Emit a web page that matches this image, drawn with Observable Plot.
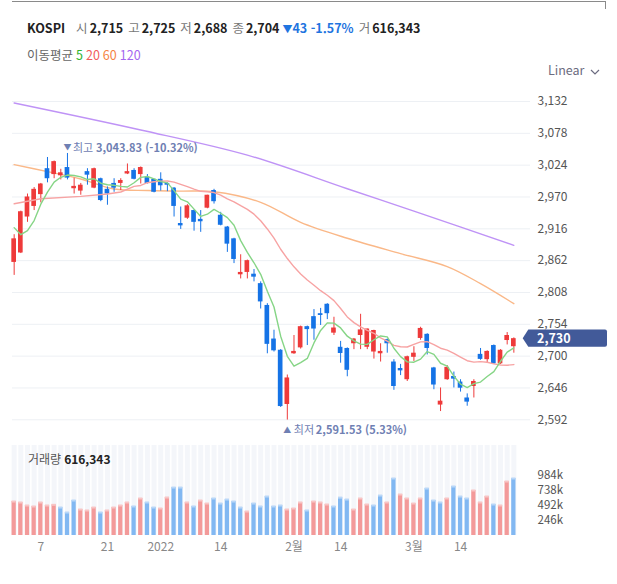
<!DOCTYPE html>
<html lang="ko">
<head>
<meta charset="utf-8">
<script src="https://cdn.jsdelivr.net/npm/d3@7"></script>
<script src="https://cdn.jsdelivr.net/npm/@observablehq/plot@0.6"></script>
<style>
  html, body { margin: 0; padding: 0; background: #fff; }
  body { position: relative; width: 617px; height: 584px; overflow: hidden;
         font-family: "Noto Sans CJK KR", "Noto Sans", sans-serif; color: #222; }
  .abs { position: absolute; white-space: nowrap; z-index: 2; }
  #frameTop { left: 12px; top: 1px; width: 594px; height: 1px; background: #8a8a8a; }
  #frameTick { left: 605px; top: 1px; width: 1px; height: 8px; background: #8a8a8a; }
  #quote { left: 27px; top: 19px; font-size: 12.5px; line-height: 18px; }
  #quote .name { font-weight: 700; margin-right: 6px; }
  #quote .k { color: #777; margin-left: 5px; margin-right: 2px; }
  #quote .v { font-weight: 600; color: #222; }
  #quote .chg { color: #1f75e0; font-weight: 600; margin-left: 3px; }
  #quote .chg small { font-size: 10px; }
  #maLegend { left: 27px; top: 46px; font-size: 12.5px; line-height: 18px; color: #666; }
  #maLegend span { margin-left: 3px; }
  #scaleMode { left: 548px; top: 61px; font-size: 12.5px; line-height: 18px; color: #6c6c80; }
  #scaleMode svg { margin-left: 6px; vertical-align: middle; }
  #volLabel { left: 28px; top: 450px; font-size: 12px; line-height: 18px; color: #555; }
  #volLabel b { color: #222; font-weight: 700; margin-left: 3px; }
  #price { position: absolute; left: 0; top: 0; z-index: 1; }
  #volume { position: absolute; left: 0; top: 440px; z-index: 1; }
</style>
</head>
<body>
<div id="price"></div>
<div id="volume"></div>
<div class="abs" id="frameTop"></div>
<div class="abs" id="frameTick"></div>
<div class="abs" id="quote"></div>
<div class="abs" id="maLegend"></div>
<div class="abs" id="scaleMode">Linear<svg width="10" height="6" viewBox="0 0 10 6"><polyline points="1,1 5,5 9,1" fill="none" stroke="#6c6c80" stroke-width="1.2"/></svg></div>
<div class="abs" id="volLabel"></div>
<script>
// KOSPI daily sessions, 2021-12-01 .. 2022-03-24
const indexName = "KOSPI";
const open = [2859,2875,2936,2954,2974,3018,3008,3006,3020,2984, 2980,3013,2985,3001,2983,2993,2993,3009,3015,3008,
              3003,3000,3000,2993,2985,2925,2934,2947,2932,2951, 2981,2939,2919,2899,2838,2842,2839,2823,2786,2729,
              2710,2618,2704,2714,2750,2767,2772,2788,2739,2715, 2713,2721,2735,2715,2707,2704,2728,2690,2679,2660,
              2698,2730,2737,2680,2617,2660,2665.5,2656,2629,2648.5, 2703,2694,2718,2687,2726.5,2716];
const high = [2906,2946,2975,2986,2993,3037,3031,3017,3043.83,3002, 2993,3018,3019,3002,2987,3001,3001,3026,3018,3021,
              3008,3000,3011,2994,2986,2953,2957,2948,2947,2973, 2983,2944,2920,2900,2872,2863,2847,2826,2789,2744,
              2711,2668,2735,2751,2751,2779,2781,2789,2766,2725, 2714,2730,2771,2746,2744,2721,2729,2694,2686,2700,
              2716,2749,2738,2681,2646,2684,2673,2660,2636,2660, 2713,2709,2719,2711,2740,2731];
const low  = [2837,2874,2927,2947,2960,2994,3001,2999,2999,2975, 2973,2990,2984,2962,2956,2978,2981,3008,2999,2992,
              2992,2977,2980,2979,2936,2915,2932,2912,2910,2950, 2958,2921,2876,2857,2831,2831,2826,2780,2704,2707,
              2613,2591.53,2703,2712,2718,2727,2752,2762,2735,2688, 2665,2711,2711,2711,2695,2690,2705,2642,2667,2657,
              2691,2727,2702,2643,2606,2659,2646,2639,2615,2629, 2693,2688,2686,2686,2719,2705];
const close = [2899,2945,2970,2983,2992,3001,3030,3011,3002,2988, 2990,3007,3018,2964,2975,2985,2998,3013,3000,3020,
               2993,2978,2989,2990,2954,2921,2955,2927,2928,2973, 2962,2922,2890,2864,2842,2862,2834,2792,2720,2709,
               2614.5,2663,2708,2750,2745,2746,2769,2772,2747.71,2704.48, 2676,2729,2744.5,2746,2743.5,2708,2721,2648.5,2675,2699,
               2705,2747,2713,2651,2623.6,2681,2661,2645.6,2622,2657, 2694.5,2708,2687,2710,2735,2729.66];
const volume = [553000,537000,488000,472000,537000,488000,499000,455000,374000,569000,
                423000,407000,455000,374000,407000,455000,488000,537000,472000,602000,
                537000,455000,439000,618000,780000,780000,537000,472000,569000,520000,
                602000,520000,585000,553000,455000,390000,520000,472000,634000,472000,
                488000,423000,439000,537000,407000,553000,537000,504000,472000,616343,
                585000,423000,602000,504000,488000,650000,537000,927000,667000,602000,
                520000,602000,764000,569000,537000,602000,797000,634000,602000,732000,
                537000,634000,504000,488000,878000,927000];

// session shown in the quote line
const focusIndex = 49;

// moving-average values before enough sessions are on screen
const ma5LeadIdx = [0, 1, 2, 3];
const ma5LeadVal = [2918, 2906, 2913, 2930];
const ma20LeadIdx = [0, 4, 10, 14, 16, 18];
const ma20LeadVal = [2958.5, 2967, 2971, 2975, 2978.5, 2988];
const ma60Idx = [0, 5, 10, 15, 20, 25, 30, 37, 43, 50, 58, 65, 70, 75];
const ma60Val = [3025, 3013, 3000.5, 2983.6, 2981, 2980, 2979, 2961, 2927, 2900, 2874, 2852, 2823, 2789];
const ma120Idx = [0, 19, 35, 50, 60, 75];
const ma120Val = [3129.5, 3083.7, 3041, 2984, 2946, 2888];

// axes
const priceTicks = [3132, 3078, 3024, 2970, 2916, 2862, 2808, 2754, 2700, 2646, 2592];
const volumeTicks = [246000, 492000, 738000, 984000];
const dateTickIdx = [4, 14, 22, 31, 42, 49, 60, 67];
const dateTickLabel = ["7", "21", "2022", "14", "2월", "14", "3월", "14"];

const maNames = ["5", "20", "60", "120"];
const maColors = ["#2fb52f", "#f25c5c", "#f5843f", "#a466f0"];
const maLineColors = ["#86d586", "#f7a3a3", "#fab888", "#bf93f6"];

const RED = "#ee3a3a", BLUE = "#1573e6";
const VOL_RED = "#f39a9a", VOL_BLUE = "#82b8f2";
const VOL_RED_CAP = "#f8c5c5", VOL_BLUE_CAP = "#b9d7f8";
const NOTE = "#6f80b3";
const FONT = '"Noto Sans CJK KR", "Noto Sans", sans-serif';
const X_DOMAIN = [-0.25, 77.5];

const fmt0 = d3.format(",.0f");
const fmt2 = d3.format(",.2f");
const fmtComma = d3.format(",");
const pct = v => (v * 100).toFixed(2) + "%";

const n = close.length;
const idx = d3.range(n);
const rows = idx.map(i => ({ i, o: open[i], h: high[i], l: low[i], c: close[i] }));
const candleColor = d => d.c >= d.o ? RED : BLUE;

function movingAverage(len, leadIdx, leadVal) {
  const pts = leadIdx.map((i, k) => ({ i, v: leadVal[k] }));
  for (let i = len - 1; i < n; i++) pts.push({ i, v: d3.mean(close.slice(i - len + 1, i + 1)) });
  return pts;
}
const ma5 = movingAverage(5, ma5LeadIdx, ma5LeadVal);
const ma20 = movingAverage(20, ma20LeadIdx, ma20LeadVal);
const ma60 = ma60Idx.map((i, k) => ({ i, v: ma60Val[k] }));
const ma120 = ma120Idx.map((i, k) => ({ i, v: ma120Val[k] }));

const last = close[n - 1];
const hiIdx = d3.maxIndex(high), loIdx = d3.minIndex(low);
const hiText = `${fmt2(high[hiIdx])} (${pct((last - high[hiIdx]) / high[hiIdx])})`;
const loText = `${fmt2(low[loIdx])} (${pct((last - low[loIdx]) / low[loIdx])})`;

// ---- price panel ----
const price = Plot.plot({
  width: 617, height: 440,
  marginLeft: 12, marginRight: 87, marginTop: 101, marginBottom: 20.7,
  x: { domain: X_DOMAIN, axis: null },
  y: { domain: [2592, 3132], axis: null },
  color: { type: "identity" },
  style: { fontFamily: FONT, fontSize: "12px", background: "transparent", overflow: "visible" },
  marks: [
    Plot.ruleY(priceTicks, { stroke: "#edf0f4", strokeWidth: 1 }),
    Plot.text(priceTicks, { x: X_DOMAIN[1], y: d => d, text: d => fmtComma(d), textAnchor: "start", dx: 7, fill: "#555", fontSize: 12 }),
    Plot.line(ma120, { x: "i", y: "v", stroke: maLineColors[3], strokeWidth: 1.4, curve: "catmull-rom" }),
    Plot.line(ma60, { x: "i", y: "v", stroke: maLineColors[2], strokeWidth: 1.4, curve: "catmull-rom" }),
    Plot.ruleX(rows, { x: "i", y1: "l", y2: "h", stroke: candleColor, strokeWidth: 1 }),
    Plot.rect(rows, { x1: d => d.i - 0.35, x2: d => d.i + 0.35, y1: "o", y2: "c", fill: candleColor }),
    Plot.line(ma20, { x: "i", y: "v", stroke: maLineColors[1], strokeWidth: 1.4 }),
    Plot.line(ma5, { x: "i", y: "v", stroke: maLineColors[0], strokeWidth: 1.4 }),
    // highest / lowest notes
    Plot.text([hiIdx], { x: d => d, y: d => high[d], text: () => "▼", fill: NOTE, fontSize: 8, dy: -6 }),
    Plot.text([hiIdx], { x: d => d, y: d => high[d], text: () => "최고", fill: NOTE, fontSize: 11, textAnchor: "start", dx: 5.5, dy: -5.5 }),
    Plot.text([hiIdx], { x: d => d, y: d => high[d], text: () => hiText, fill: NOTE, fontSize: 11, fontWeight: 600, textAnchor: "start", dx: 28.5, dy: -5.5 }),
    Plot.text([loIdx], { x: d => d, y: d => low[d], text: () => "▲", fill: NOTE, fontSize: 8, dy: 10.5 }),
    Plot.text([loIdx], { x: d => d, y: d => low[d], text: () => "최저", fill: NOTE, fontSize: 11, textAnchor: "start", dx: 6.5, dy: 10.7 }),
    Plot.text([loIdx], { x: d => d, y: d => low[d], text: () => loText, fill: NOTE, fontSize: 11, fontWeight: 600, textAnchor: "start", dx: 28.5, dy: 10.7 })
  ]
});
document.getElementById("price").append(price);

// last-price tag on the right axis
{
  const y = price.scale("y").apply(last);
  const g = d3.select(price).append("g");
  g.append("path")
    .attr("d", `M522.7,${y} L528.3,${y - 8.7} H605 Q607,${y - 8.7} 607,${y - 6.7} V${y + 6.7} Q607,${y + 8.7} 605,${y + 8.7} H528.3 Z`)
    .attr("fill", "#425a99");
  g.append("text")
    .attr("x", 537).attr("y", y).attr("dy", "0.35em")
    .attr("text-anchor", "start")
    .attr("fill", "#fff").attr("font-size", 12.5).attr("font-weight", 600)
    .attr("font-family", FONT)
    .text(fmt0(last));
}

// ---- volume panel ----
const vrows = idx.map(i => ({
  i, v: volume[i],
  up: i === 0 ? close[i] >= open[i] : close[i] >= close[i - 1]
}));
const volumePlot = Plot.plot({
  width: 617, height: 144,
  marginLeft: 12, marginRight: 87, marginTop: 5, marginBottom: 49,
  x: { domain: X_DOMAIN, axis: null },
  y: { domain: [0, 1464000], axis: null },
  color: { type: "identity" },
  style: { fontFamily: FONT, fontSize: "12px", background: "transparent", overflow: "visible" },
  marks: [
    Plot.ruleX(idx, { x: d => d, stroke: "#f4f6fa", strokeWidth: 5 }),
    Plot.rect(vrows, { x1: d => d.i - 0.32, x2: d => d.i + 0.32, y1: 0, y2: "v", fill: d => d.up ? VOL_RED : VOL_BLUE }),
    Plot.ruleY(vrows, { x1: d => d.i - 0.32, x2: d => d.i + 0.32, y: "v", stroke: d => d.up ? VOL_RED_CAP : VOL_BLUE_CAP, strokeWidth: 2 }),
    Plot.text(volumeTicks, { x: X_DOMAIN[1], y: d => d, text: d => d / 1000 + "k", textAnchor: "start", dx: 7, fill: "#555", fontSize: 11.5 }),
    Plot.text(dateTickIdx, { x: d => d, y: 0, text: (d, k) => dateTickLabel[k], dy: 12, fill: "#888", fontSize: 12 })
  ]
});
document.getElementById("volume").append(volumePlot);

// ---- quote line, legend, volume caption ----
{
  const f = focusIndex;
  const chg = close[f] - close[f - 1];
  const items = [["시", open[f]], ["고", high[f]], ["저", low[f]], ["종", close[f]]];
  document.getElementById("quote").innerHTML =
    `<span class="name">${indexName}</span>` +
    items.map(([k, v]) => `<span class="k">${k}</span><span class="v">${fmt0(v)}</span>`).join("") +
    `<span class="chg"><small>${chg < 0 ? "▼" : "▲"}</small>${fmt0(Math.abs(chg))} ${pct(chg / close[f - 1])}</span>` +
    `<span class="k">거</span><span class="v">${fmt0(volume[f])}</span>`;
  document.getElementById("maLegend").innerHTML =
    "이동평균" + maNames.map((m, k) => `<span style="color:${maColors[k]}">${m}</span>`).join("");
  document.getElementById("volLabel").innerHTML = `거래량<b>${fmt0(volume[f])}</b>`;
}
</script>
</body>
</html>
